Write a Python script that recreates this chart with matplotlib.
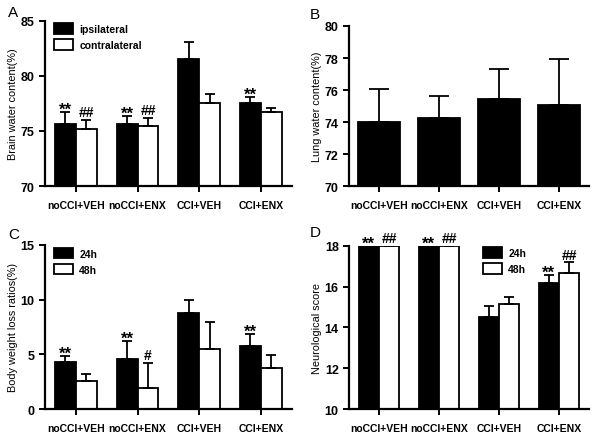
import matplotlib.pyplot as plt
import numpy as np

plt.rcParams['font.family'] = ['Liberation Sans', 'DejaVu Sans']
plt.rcParams['font.weight'] = 'bold'

groups = ['noCCI+VEH', 'noCCI+ENX', 'CCI+VEH', 'CCI+ENX']

# A: brain water content
brain_ipsi = [75.6, 75.6, 81.5, 77.5]
brain_ipsi_err = [1.1, 0.8, 1.6, 0.6]
brain_contra = [75.2, 75.45, 77.5, 76.7]
brain_contra_err = [0.8, 0.75, 0.9, 0.4]
brain_ipsi_mark = ['**', '**', '', '**']
brain_contra_mark = ['##', '##', '', '']

# B: lung water content
lung = [74.0, 74.25, 75.45, 75.05]
lung_err = [2.05, 1.4, 1.85, 2.9]

# C: body weight loss
bw_24 = [4.32, 4.56, 8.73, 5.78]
bw_24_err = [0.55, 1.65, 1.22, 1.1]
bw_48 = [2.6, 1.9, 5.45, 3.74]
bw_48_err = [0.6, 2.3, 2.52, 1.16]
bw_24_mark = ['**', '**', '', '**']
bw_48_mark = ['', '#', '', '']

# D: neurological score
neuro_24 = [18, 18, 14.5, 16.18]
neuro_24_err = [0, 0, 0.54, 0.4]
neuro_48 = [18, 18, 15.14, 16.68]
neuro_48_err = [0, 0, 0.36, 0.52]
neuro_24_mark = ['**', '**', '', '**']
neuro_48_mark = ['##', '##', '', '##']

fig = plt.figure(figsize=(6.04, 4.39), dpi=100)
axA = fig.add_axes([0.0745, 0.574, 0.4085, 0.376])
axB = fig.add_axes([0.578, 0.574, 0.397, 0.3645])
axC = fig.add_axes([0.0745, 0.066, 0.4085, 0.374])
axD = fig.add_axes([0.578, 0.066, 0.397, 0.3715])

x = np.arange(len(groups))
w = 0.34


def style(ax, ylim, yticks, ylabel):
    for s in ['top', 'right']:
        ax.spines[s].set_visible(False)
    for s in ['left', 'bottom']:
        ax.spines[s].set_linewidth(1.6)
    ax.set_xlim(-0.5, 3.5)
    ax.set_ylim(*ylim)
    ax.set_yticks(yticks)
    ax.set_xticks(x)
    ax.set_xticklabels(groups, fontsize=7.5)
    for t in ax.get_yticklabels():
        t.set_fontsize(9)
    ax.tick_params(width=1.4, length=4)
    ax.tick_params(axis='x', pad=6)
    ax.set_ylabel(ylabel, fontsize=7.8, labelpad=2)


def paired(ax, a, ae, b, be, am, bm, lab, offs):
    kw = dict(width=w, edgecolor='black', linewidth=1.3, capsize=3.5,
              error_kw=dict(elinewidth=1.3, capthick=1.3))
    ax.bar(x - w / 2, a, yerr=[np.zeros(4), ae], color='black', label=lab[0], **kw)
    ax.bar(x + w / 2, b, yerr=[np.zeros(4), be], color='white', label=lab[1], **kw)
    for i in range(4):
        if am[i]:
            ax.text(x[i] - w / 2, a[i] + ae[i] + offs, am[i], ha='center', va='bottom',
                    fontsize=12, fontweight='bold')
        if bm[i]:
            ax.text(x[i] + w / 2, b[i] + be[i] + abs(offs) * 0.12, bm[i], ha='center',
                    va='bottom', fontsize=10, fontweight='bold')


leg_kw = dict(frameon=False, fontsize=7.5, handlelength=1.8, handleheight=1.2,
              labelspacing=0.5, handletextpad=0.6)

paired(axA, brain_ipsi, brain_ipsi_err, brain_contra, brain_contra_err,
       brain_ipsi_mark, brain_contra_mark, ['ipsilateral', 'contralateral'], -0.45)
style(axA, (70, 85), [70, 75, 80, 85], 'Brain water content(%)')
axA.legend(loc='upper left', bbox_to_anchor=(0.0, 1.045), **leg_kw)

axB.bar(x, lung, width=0.7, color='black', edgecolor='black', linewidth=1.3,
        yerr=[np.zeros(4), lung_err], capsize=7,
        error_kw=dict(elinewidth=1.3, capthick=1.3))
style(axB, (70, 80), [70, 72, 74, 76, 78, 80], 'Lung water content(%)')

paired(axC, bw_24, bw_24_err, bw_48, bw_48_err, bw_24_mark, bw_48_mark,
       ['24h', '48h'], -0.45)
style(axC, (0, 15), [0, 5, 10, 15], 'Body weight loss ratios(%)')
axC.legend(loc='upper left', bbox_to_anchor=(0.0, 1.04), **leg_kw)

paired(axD, neuro_24, neuro_24_err, neuro_48, neuro_48_err, neuro_24_mark, neuro_48_mark,
       ['24h', '48h'], -0.24)
style(axD, (10, 18), [10, 12, 14, 16, 18], 'Neurological score')
axD.legend(loc='upper left', bbox_to_anchor=(0.52, 1.05), **leg_kw)

for lbl, (lx, ly) in zip('ABCD', [(8, 6), (310, 8), (8, 228), (310, 226)]):
    fig.text(lx / 604, 1 - ly / 439, lbl, fontsize=11, va='top', ha='left',
             fontweight='normal')

fig.savefig('out.png', dpi=100)
